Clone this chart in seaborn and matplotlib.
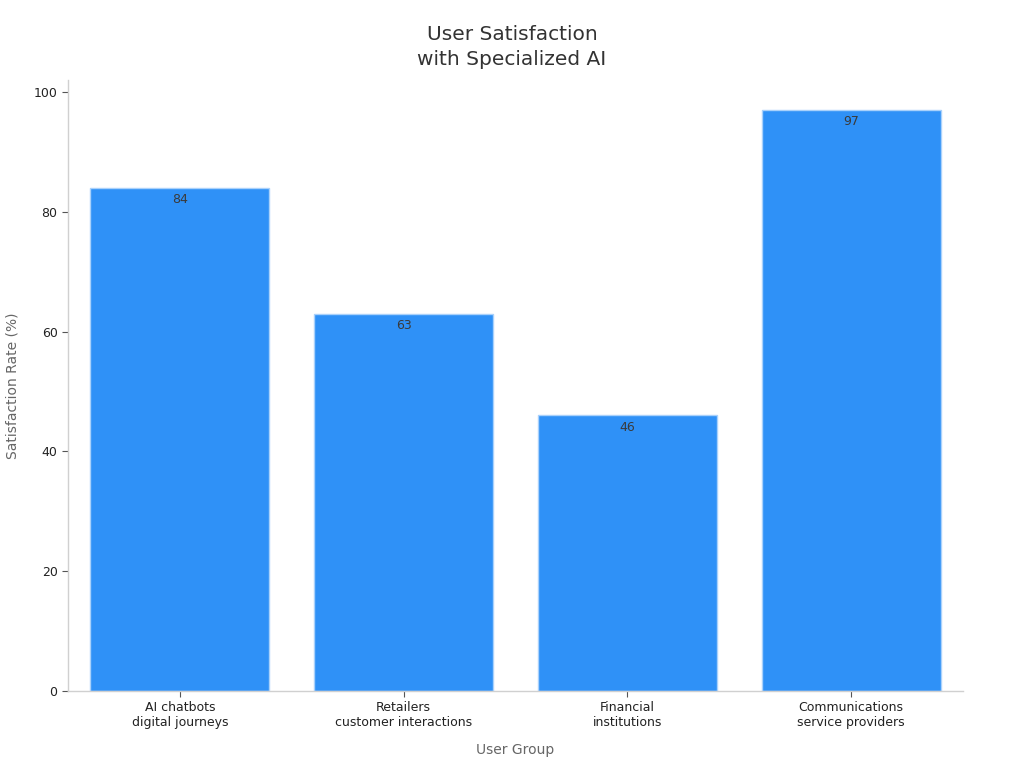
import matplotlib
matplotlib.use("Agg")
import matplotlib.pyplot as plt
import seaborn as sns
import pandas as pd

# Chart data
groups = ["AI chatbots\ndigital journeys", "Retailers\ncustomer interactions",
          "Financial\ninstitutions", "Communications\nservice providers"]
satisfaction = [84, 63, 46, 97]

df = pd.DataFrame({"User Group": groups, "Satisfaction Rate (%)": satisfaction})

sns.set_theme(style="ticks")
plt.rcParams['font.family'] = ['DejaVu Sans']

fig = plt.figure(figsize=(10.24, 7.68), dpi=100)
ax = fig.add_axes([0.0664, 0.1003, 0.874, 0.7955])

sns.barplot(data=df, x="User Group", y="Satisfaction Rate (%)", color="#2f91f7",
            saturation=1, width=0.8, edgecolor="#a9d1fb", linewidth=1, ax=ax)

for container in ax.containers:
    ax.bar_label(container, padding=-13, fontsize=9, color="#3a3a3a")

ax.set_xlim(-0.5, 3.5)
ax.set_ylim(0, 102)
ax.set_yticks([0, 20, 40, 60, 80, 100])

sns.despine(ax=ax)
for side in ["left", "bottom"]:
    ax.spines[side].set_color("#d0d0d0")
    ax.spines[side].set_linewidth(1)
ax.tick_params(axis="both", labelsize=9, colors="#222222", length=4, width=0.8)
ax.tick_params(axis="both", color="#555555")

ax.set_xlabel("User Group", fontsize=10, color="#666666", labelpad=10)
ax.set_ylabel("Satisfaction Rate (%)", fontsize=10, color="#666666", labelpad=10)
fig.suptitle("User Satisfaction\nwith Specialized AI", fontsize=14.5, color="#333333",
             y=0.968, linespacing=1.4)

fig.savefig("out.png", dpi=100)
